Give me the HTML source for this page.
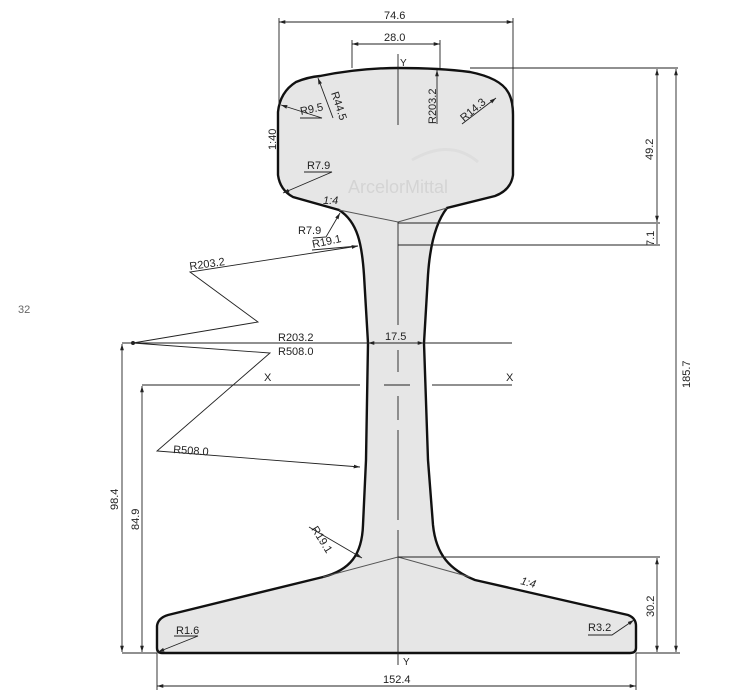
<!DOCTYPE html>
<html><head><meta charset="utf-8"><style>
html,body{margin:0;padding:0;background:#fff;}
svg{display:block;}
text{font-family:"Liberation Sans",sans-serif;font-size:11px;fill:#222;}
</style></head><body>
<svg width="751" height="699" viewBox="0 0 751 699" xmlns="http://www.w3.org/2000/svg">
<defs>
<marker id="a" viewBox="0 0 10 10" refX="10" refY="5" markerWidth="7" markerHeight="7" orient="auto-start-reverse"><path d="M0,2 L10,5 L0,8 z" fill="#222"/></marker>
</defs>
<text x="18" y="313" style="fill:#666;font-size:11px">32</text>
<path d="M320,76 Q360,68 398,68 Q440,68 470,72 Q500,78 508,92 Q513,100 513,115 L513,175 Q511,190 495,196 L447,208
C436,222 430,245 428,275 L424,343 L428,460 L433,525 C436,555 450,570 475,580 L628,615 Q636,618 636,626 L636,648 Q636,653 630,653 L162,653 Q157,653 157,648 L157,626 Q158,618 168,615 L323,577
C350,570 362,555 363,525 L366,460 L368,343 L364,275 C362,245 358,222 339,210 L293,197 Q280,190 278,175 L278,112 Q280,92 296,82 Q308,77 320,76 Z"
fill="#e6e6e6" stroke="#111" stroke-width="2.4"/>
<text x="348" y="193" style="fill:#d4d4d4;font-size:18px">ArcelorMittal</text>
<path d="M412,160 Q450,138 478,162" fill="none" stroke="#dedede" stroke-width="3"/>
<g stroke="#555" stroke-width="1" fill="none">
<path d="M339,210 L398,222 L447,208"/>
<path d="M323,577 L398,557 L470,577"/>
</g>
<g stroke="#222" stroke-width="0.9" fill="none">
<path d="M398,54 L398,125"/>
<path d="M398,222 L398,325"/>
<path d="M398,350 L398,372 M398,396 L398,420 M398,430 L398,520 M398,530 L398,665"/>
<path d="M279,18 L279,105 M513,18 L513,110"/>
<path d="M279,22 L513,22" marker-start="url(#a)" marker-end="url(#a)"/>
<path d="M352,40 L352,68 M440,40 L440,68"/>
<path d="M352,44 L440,44" marker-start="url(#a)" marker-end="url(#a)"/>
<path d="M470,68 L678,68"/>
<path d="M398,223 L660,223 M398,245 L660,245"/>
<path d="M398,557 L660,557"/>
<path d="M636,653 L680,653"/>
<path d="M657,69 L657,222" marker-start="url(#a)" marker-end="url(#a)"/>
<path d="M657,224 L657,244"/>
<path d="M676,69 L676,652" marker-start="url(#a)" marker-end="url(#a)"/>
<path d="M657,558 L657,652" marker-start="url(#a)" marker-end="url(#a)"/>
<path d="M122,343 L512,343"/>
<path d="M142,385 L360,385 M384,385 L410,385 M432,385 L512,385"/>
<path d="M122,653 L157,653"/>
<path d="M122,344 L122,652" marker-start="url(#a)" marker-end="url(#a)"/>
<path d="M142,386 L142,652" marker-start="url(#a)" marker-end="url(#a)"/>
<path d="M368,343 L383,343" marker-start="url(#a)"/>
<path d="M409,343 L424,343" marker-end="url(#a)"/>
<path d="M157,653 L157,690 M636,653 L636,690"/>
<path d="M157,686 L636,686" marker-start="url(#a)" marker-end="url(#a)"/>
<path d="M133,343 L258,322 L190,272 L358,246" marker-end="url(#a)"/>
<path d="M133,343 L270,353 L157,451 L360,467" marker-end="url(#a)"/>
<path d="M312,250 L358,246"/>
<path d="M313,238 L326,237 L340,213" marker-end="url(#a)"/>
<path d="M304,172 L332,172 L283,193" marker-end="url(#a)"/>
<path d="M300,118 L322,118 L281,105" marker-end="url(#a)"/>
<path d="M333,118 L318,78" marker-end="url(#a)"/>
<path d="M437,124 L437,70" marker-end="url(#a)"/>
<path d="M462,124 L496,98" marker-end="url(#a)"/>
<path d="M309,527 L362,558" marker-end="url(#a)"/>
<path d="M174,636 L198,636 L158,652" marker-end="url(#a)"/>
<path d="M588,635 L612,635 L634,620" marker-end="url(#a)"/>
</g>
<circle cx="133" cy="343" r="2" fill="#222"/>
<text x="384" y="19">74.6</text>
<text x="384" y="41">28.0</text>
<text x="400" y="66" style="font-size:10px">Y</text>
<text x="403" y="665" style="font-size:10px">Y</text>
<text x="383" y="683">152.4</text>
<text x="385" y="340">17.5</text>
<text x="264" y="381">X</text>
<text x="506" y="381">X</text>
<text x="278" y="341">R203.2</text>
<text x="278" y="355">R508.0</text>
<text x="190" y="270" transform="rotate(-8 190 270)">R203.2</text>
<text x="173" y="453" transform="rotate(4 173 453)">R508.0</text>
<text x="313" y="248" transform="rotate(-12 313 248)">R19.1</text>
<text x="298" y="234">R7.9</text>
<text x="323" y="204" style="font-style:italic">1:4</text>
<text x="307" y="169">R7.9</text>
<text x="276" y="150" transform="rotate(-90 276 150)">1:40</text>
<text x="301" y="115" transform="rotate(-12 301 115)">R9.5</text>
<text x="331" y="93" transform="rotate(72 331 93)">R44.5</text>
<text x="436" y="124" transform="rotate(-90 436 124)">R203.2</text>
<text x="464" y="122" transform="rotate(-40 464 122)">R14.3</text>
<text x="653" y="160" transform="rotate(-90 653 160)">49.2</text>
<text x="654" y="246" transform="rotate(-90 654 246)">7.1</text>
<text x="690" y="388" transform="rotate(-90 690 388)">185.7</text>
<text x="654" y="617" transform="rotate(-90 654 617)">30.2</text>
<text x="118" y="510" transform="rotate(-90 118 510)">98.4</text>
<text x="139" y="530" transform="rotate(-90 139 530)">84.9</text>
<text x="311" y="529" transform="rotate(58 311 529)">R19.1</text>
<text x="520" y="584" style="font-style:italic" transform="rotate(15 520 584)">1:4</text>
<text x="176" y="634">R1.6</text>
<text x="588" y="631">R3.2</text>
</svg>
</body></html>
